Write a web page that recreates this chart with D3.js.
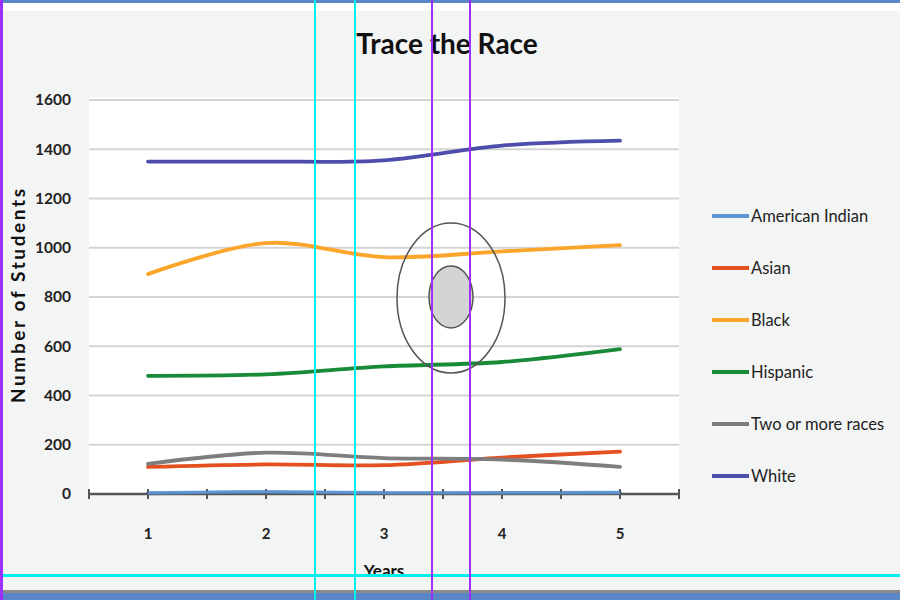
<!DOCTYPE html>
<html>
<head>
<meta charset="utf-8">
<script src="https://cdn.jsdelivr.net/npm/d3@7"></script>
<style>
  html, body { margin: 0; padding: 0; background: #f3f4f4; }
  svg { display: block; }
</style>
</head>
<body>
<svg id="chart" width="900" height="600"></svg>
<script>
const years = ["1", "2", "3", "4", "5"];
const seriesNames = ["American Indian", "Asian", "Black", "Hispanic", "Two or more races", "White"];
const americanIndian = [3, 8, 4, 4, 5];
const asian = [110, 120, 117, 148, 172];
const black = [893, 1019, 962, 985, 1011];
const hispanic = [480, 486, 518, 536, 588];
const twoOrMore = [122, 168, 146, 140, 110];
const white = [1350, 1350, 1355, 1415, 1435];
const yTicks = [0, 200, 400, 600, 800, 1000, 1200, 1400, 1600];
const colors = ["#5f97d6", "#e4501f", "#fba52a", "#188a38", "#7e7e7e", "#4d4eab"];

(function () {
const seriesValues = [americanIndian, asian, black, hispanic, twoOrMore, white];
const series = seriesNames.map((n, i) => ({ name: n, values: seriesValues[i], color: colors[i] }));

const svg = d3.select("#chart");
const font = "Lato, 'Open Sans', sans-serif";

// background
svg.append("rect").attr("x", 0).attr("y", 0).attr("width", 900).attr("height", 600).attr("fill", "#f3f4f4");
svg.append("rect").attr("x", 0).attr("y", 0).attr("width", 900).attr("height", 11).attr("fill", "#ffffff");
svg.append("rect").attr("x", 0).attr("y", 0).attr("width", 900).attr("height", 3).attr("fill", "#5a86c8");

const pLeft = 89, pRight = 679, pTop = 100, pBottom = 494;
// plot area
svg.append("rect").attr("x", pLeft).attr("y", 97).attr("width", pRight - pLeft).attr("height", pBottom - 97).attr("fill", "#ffffff");

const x = d3.scaleBand().domain(years).range([pLeft, pRight]).padding(0);
const y = d3.scaleLinear().domain([0, 1600]).range([pBottom, pTop]);
const xc = d => x(d) + x.bandwidth() / 2;

// gridlines
svg.append("g").selectAll("line").data(yTicks.filter(t => t > 0)).join("line")
  .attr("x1", pLeft).attr("x2", pRight)
  .attr("y1", d => y(d)).attr("y2", d => y(d))
  .attr("stroke", "#d4d4d4").attr("stroke-width", 2);

// y tick labels
svg.append("g").selectAll("text").data(yTicks).join("text")
  .attr("x", 71).attr("y", d => y(d)).attr("dy", "0.35em")
  .attr("text-anchor", "end").attr("font-family", font).attr("font-size", 15.5).attr("font-weight", "bold")
  .attr("fill", "#222").text(d => d);

// y label
svg.append("text").attr("transform", "translate(25,296) rotate(-90)")
  .attr("text-anchor", "middle").attr("font-family", font).attr("font-size", 19).attr("font-weight", "bold")
  .attr("textLength", 214).attr("lengthAdjust", "spacing")
  .attr("fill", "#111").text("Number of Students");

// lines
const line = d3.line().x((d, i) => xc(years[i])).y(d => y(d)).curve(d3.curveCatmullRom.alpha(0.5));
svg.append("g").selectAll("path").data(series).join("path")
  .attr("d", d => line(d.values)).attr("fill", "none")
  .attr("stroke", d => d.color).attr("stroke-width", 3.8).attr("stroke-linecap", "round");

// x axis
const xaxis = svg.append("g");
xaxis.append("line").attr("x1", pLeft).attr("x2", pRight).attr("y1", pBottom).attr("y2", pBottom)
  .attr("stroke", "#555").attr("stroke-width", 2.5);
const tickPos = [];
years.forEach(yy => { tickPos.push(x(yy)); tickPos.push(xc(yy)); });
tickPos.push(pRight);
xaxis.selectAll("line.t").data(tickPos).join("line").attr("class", "t")
  .attr("x1", d => d).attr("x2", d => d).attr("y1", pBottom - 5).attr("y2", pBottom + 5)
  .attr("stroke", "#555").attr("stroke-width", 2);
// redraw American Indian over the axis
svg.append("path").attr("d", line(americanIndian)).attr("fill", "none")
  .attr("stroke", colors[0]).attr("stroke-width", 3).attr("opacity", 0.8);

xaxis.selectAll("text").data(years).join("text")
  .attr("x", d => xc(d)).attr("y", 534).attr("dy", "0.35em").attr("text-anchor", "middle")
  .attr("font-family", font).attr("font-size", 15).attr("font-weight", "bold").attr("fill", "#222").text(d => d);

svg.append("text").attr("x", 384).attr("y", 577).attr("text-anchor", "middle")
  .attr("font-family", font).attr("font-size", 17).attr("font-weight", "bold").attr("fill", "#111").text("Years");

// title
svg.append("text").attr("x", 447).attr("y", 54).attr("text-anchor", "middle")
  .attr("font-family", font).attr("font-size", 28).attr("font-weight", "bold").attr("fill", "#111").text("Trace the Race");

// legend
const legend = svg.append("g").selectAll("g").data(series).join("g")
  .attr("transform", (d, i) => `translate(712,${216 + i * 52})`);
legend.append("line").attr("x1", 0).attr("x2", 37).attr("y1", 0).attr("y2", 0)
  .attr("stroke", d => d.color).attr("stroke-width", 3.8);
legend.append("text").attr("x", 39).attr("y", 0).attr("dy", "0.35em")
  .attr("font-family", font).attr("font-size", 16.5).attr("fill", "#222").text(d => d.name);

// target marker overlay
svg.append("ellipse").attr("cx", 451).attr("cy", 298).attr("rx", 54).attr("ry", 75)
  .attr("fill", "none").attr("stroke", "#555").attr("stroke-width", 1.5);
svg.append("ellipse").attr("cx", 451).attr("cy", 297).attr("rx", 22).attr("ry", 31)
  .attr("fill", "#d4d4d4").attr("stroke", "#555").attr("stroke-width", 1.5);

// bottom frame
svg.append("rect").attr("x", 0).attr("y", 577).attr("width", 900).attr("height", 13).attr("fill", "#f3f4f4");
svg.append("rect").attr("x", 0).attr("y", 590).attr("width", 900).attr("height", 3).attr("fill", "#8a8a8a");
svg.append("rect").attr("x", 0).attr("y", 593).attr("width", 900).attr("height", 7).attr("fill", "#5a86c8");

// guide lines overlay
svg.append("rect").attr("x", 0).attr("y", 574).attr("width", 900).attr("height", 3).attr("fill", "#00f0f0");
[315, 355].forEach(px => svg.append("rect").attr("x", px - 1).attr("y", 0).attr("width", 2).attr("height", 600).attr("fill", "#00f0f0"));
[432, 470].forEach(px => svg.append("rect").attr("x", px - 1).attr("y", 0).attr("width", 2).attr("height", 600).attr("fill", "#9b30ff"));
svg.append("rect").attr("x", 0).attr("y", 0).attr("width", 3).attr("height", 600).attr("fill", "#9b30ff");
})();
</script>
</body>
</html>
